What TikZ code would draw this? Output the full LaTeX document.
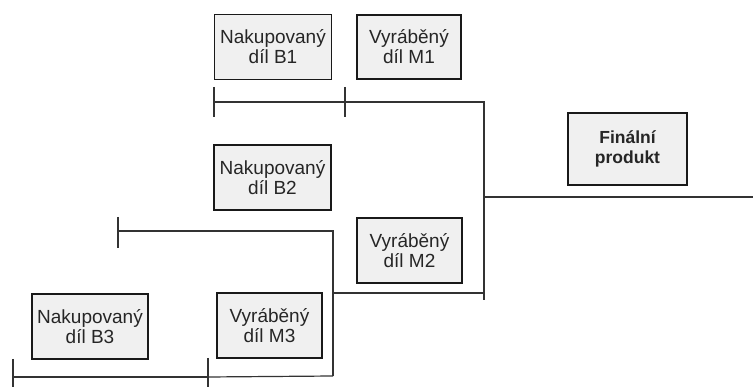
\documentclass[tikz,border=0pt]{standalone}
\usepackage{fontspec}
\setmainfont{Liberation Sans}
\begin{document}
\begin{tikzpicture}[x=1pt,y=-1pt,
  part/.style={draw=black!90, line width=1.7pt, fill=black!6, align=center,
    font=\fontsize{19}{20}\selectfont, text=black!85, inner sep=0pt},
  bar/.style={draw=black!80, line width=1.2pt},
  tick/.style={draw=black!80, line width=1.2pt}]
\useasboundingbox (0,0) rectangle (753,387);
% boxes
\node[part, minimum width=117pt, minimum height=65pt] (B1) at (273,47) {Nakupovaný\\díl B1};
\node[part, minimum width=104pt, minimum height=64pt] (M1) at (409,47) {Vyráběný\\díl M1};
\node[part, minimum width=119pt, minimum height=72pt, font=\fontsize{17.5}{20}\selectfont\bfseries] (F) at (627.5,149) {Finální\\produkt};
\node[part, minimum width=117pt, minimum height=65pt] (B2) at (272.5,177.5) {Nakupovaný\\díl B2};
\node[part, minimum width=105pt, minimum height=65pt] (M2) at (409.5,250.5) {Vyráběný\\díl M2};
\node[part, minimum width=116pt, minimum height=65pt] (B3) at (90,326.5) {Nakupovaný\\díl B3};
\node[part, minimum width=105pt, minimum height=65pt] (M3) at (269.5,325.5) {Vyráběný\\díl M3};
% coordinates
\coordinate (b1s) at (214,102);
\coordinate (m1s) at (345,102);
\coordinate (m1c) at (484,102);
\coordinate (m1e) at (484,300);
\coordinate (fs) at (484,197);
\coordinate (fe) at (753,197);
\coordinate (b2s) at (118,231);
\coordinate (b2c) at (333,231);
\coordinate (m2s) at (333,293);
\coordinate (m2e) at (484,293);
\coordinate (b3s) at (13,377);
\coordinate (m3s) at (208,377);
\coordinate (m3c) at (333,376);
% ticks
\draw[tick] (214,87) -- (214,117);
\draw[tick] (345,87) -- (345,117);
\draw[tick] (118,217) -- (118,248);
\draw[tick] (13,359) -- (13,387);
\draw[tick] (208,358) -- (208,387);
% bars
\draw[bar] (b1s) -- (m1s);
\draw[bar] (m1s) -- (m1c) -- (m1e);
\draw[bar] (fs) -- (fe);
\draw[bar] (b2s) -- (b2c) -- (m3c);
\draw[bar] (m2s) -- (m2e);
\draw[bar] (b3s) -- (m3s);
\draw[bar] (m3s) -- (m3c);
\end{tikzpicture}
\end{document}
